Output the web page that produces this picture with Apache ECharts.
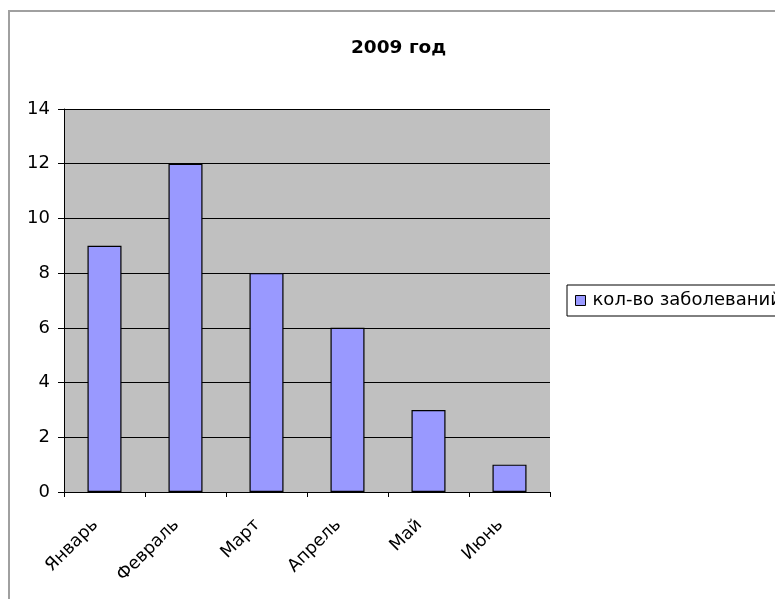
<!DOCTYPE html>
<html><head><meta charset="utf-8">
<script src="https://cdn.jsdelivr.net/npm/echarts@6/dist/echarts.min.js"></script>
<style>html,body{margin:0;padding:0;background:#fff}#c{width:775px;height:599px}</style>
</head><body><div id="c"></div>
<script>
const categories = ['Январь','Февраль','Март','Апрель','Май','Июнь'];
const values = [9, 12, 8, 6, 3, 1];
const seriesName = 'кол-во заболеваний';
const titleText = '2009 год';

const chart = echarts.init(document.getElementById('c'), null, {renderer:'canvas'});
const font = 'DejaVu Sans';
chart.setOption({
  animation:false,
  backgroundColor:'#fff',
  textStyle:{fontFamily:font},
  graphic:[{type:'rect',shape:{x:9,y:11,width:800,height:620},style:{fill:null,stroke:'#a0a0a0',lineWidth:2},z:-1}],
  title:{text:titleText,left:346,top:34,textStyle:{fontFamily:font,fontWeight:'bold',fontSize:18.5,color:'#000'}},
  legend:{left:567,top:285,orient:'vertical',itemWidth:10,itemHeight:10,itemGap:0,padding:[5,8,5,8],
    borderColor:'#000',borderWidth:1,backgroundColor:'#fff',
    textStyle:{fontFamily:font,fontSize:18,color:'#000',lineHeight:21,padding:[0,0,0,2]},
    data:[{name:seriesName,icon:'rect',itemStyle:{color:'#9999ff',borderColor:'#000',borderWidth:1}}]},
  grid:{left:64,right:225,top:109,bottom:107,show:true,backgroundColor:'#c0c0c0',borderWidth:0},
  xAxis:{type:'category',data:categories,
    axisLine:{lineStyle:{color:'#000',width:1}},
    axisTick:{show:true,length:5,lineStyle:{color:'#000'},alignWithLabel:false},
    axisLabel:{rotate:45,fontFamily:font,fontSize:17.5,color:'#000',margin:21,padding:[0,13,0,0],interval:0}},
  yAxis:{type:'value',min:0,max:14,interval:2,
    axisLine:{show:true,lineStyle:{color:'#000',width:1}},
    axisTick:{show:true,length:6,lineStyle:{color:'#000'}},
    splitLine:{show:true,lineStyle:{color:'#000',width:1}},
    axisLabel:{fontFamily:font,fontSize:18,color:'#000',margin:14}},
  series:[{name:seriesName,type:'bar',data:values,barCategoryGap:'58%',
    itemStyle:{color:'#9999ff',borderColor:'#000',borderWidth:1.2}}]
});
</script></body></html>
